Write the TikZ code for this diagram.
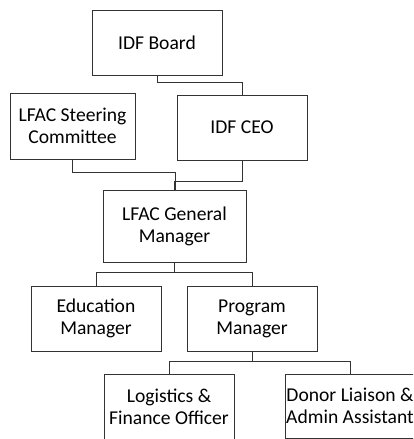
\documentclass[tikz,border=0pt]{standalone}
\usepackage{fontspec}
\setmainfont{Carlito}
\begin{document}
\begin{tikzpicture}[x=1pt,y=-1pt,
  box/.style={draw=black!80,line width=1pt,rectangle,inner sep=0pt,align=center,
    font=\fontsize{19.6}{22}\selectfont,text=black},
  link/.style={draw=black!80,line width=1pt}]
\useasboundingbox (0,0) rectangle (413,439);
\clip (0,0) rectangle (413,439);
\node[box,minimum width=130pt,minimum height=65pt] (board) at (157,42.5) {IDF Board};
\node[box,minimum width=130pt,minimum height=65pt] (ceo) at (242,127.5) {IDF CEO};
\node[box,minimum width=125pt,minimum height=66pt] (steer) at (72.5,126) {LFAC Steering\\Committee};
\node[box,minimum width=143pt,minimum height=72pt] (gm) at (174.5,226) {LFAC General\\Manager};
\node[box,minimum width=130pt,minimum height=65pt] (edu) at (96,318.5) {Education\\Manager};
\node[box,minimum width=130pt,minimum height=65pt] (prog) at (252,318.5) {Program\\Manager};
\node[box,minimum width=130pt,minimum height=66pt] (log) at (169,407) {Logistics \&\\Finance Officer};
\node[box,minimum width=130pt,minimum height=64pt] (donor) at (350,406) {Donor Liaison \&\\Admin Assistant};
\draw[link] (board.south) -- ++(0,7) -| (ceo.north);
\draw[link] (steer.south) -- ++(0,13) -| ([xshift=0.5pt]gm.north);
\draw[link] (ceo.south) -- ++(0,21) -| (gm.north);
\draw[link] (gm.south) -- ++(0,10) -| (edu.north);
\draw[link] (gm.south) ++(0,10) -| (prog.north);
\draw[link] (prog.south) -- ++(0,10) -| (log.north);
\draw[link] (prog.south) ++(0,10) -| (donor.north);
\end{tikzpicture}
\end{document}
